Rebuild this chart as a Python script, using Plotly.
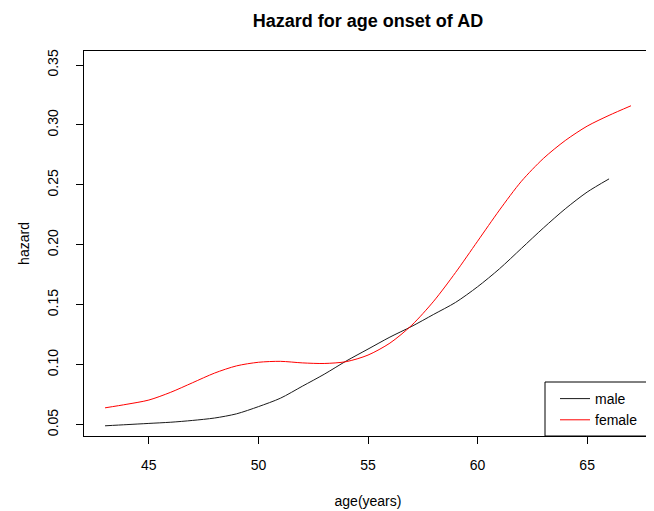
import plotly.graph_objects as go

age_male = [43, 44, 45, 46, 47, 48, 49, 50, 51, 52, 53, 54, 55, 56, 57, 58, 59, 60, 61, 62, 63, 64, 65, 66]
hazard_male = [0.049, 0.050, 0.051, 0.052, 0.0535, 0.0555, 0.059, 0.065, 0.072, 0.082, 0.092, 0.103,
               0.113, 0.123, 0.132, 0.142, 0.152, 0.165, 0.180, 0.197, 0.214, 0.230, 0.244, 0.255]

age_female = [43, 44, 45, 46, 47, 48, 49, 50, 51, 52, 53, 54, 55, 56, 57, 58, 59, 60, 61, 62, 63, 64, 65, 66, 67]
hazard_female = [0.064, 0.067, 0.0705, 0.077, 0.085, 0.093, 0.099, 0.102, 0.1028, 0.1015, 0.101, 0.1025,
                 0.108, 0.118, 0.133, 0.153, 0.177, 0.203, 0.229, 0.253, 0.272, 0.287, 0.299, 0.308, 0.316]

x_ticks = [45, 50, 55, 60, 65]
y_ticks = [0.05, 0.10, 0.15, 0.20, 0.25, 0.30, 0.35]
y_ticklabels = ["0.05", "0.10", "0.15", "0.20", "0.25", "0.30", "0.35"]

FONT = "Liberation Sans, Arial, sans-serif"
W, H = 646, 503  # page body has an 8px margin
L, R, T, B = 76, 2, 43, 75
PW, PH = W - L - R, H - T - B  # plot area in px

fig = go.Figure()
fig.add_trace(go.Scatter(x=age_male, y=hazard_male, mode="lines", name="male",
                         line=dict(color="#1a1a1a", width=1, shape="spline", smoothing=0.8)))
fig.add_trace(go.Scatter(x=age_female, y=hazard_female, mode="lines", name="female",
                         line=dict(color="#ff0000", width=1, shape="spline", smoothing=0.8)))

# legend frame (R-style bottomright box)
box_w, box_h = 107, 54
fig.add_shape(type="rect", xref="paper", yref="paper",
              x0=1 - box_w / PW, x1=1, y0=0, y1=box_h / PH,
              line=dict(color="black", width=1), fillcolor="white", layer="above")

fig.update_layout(
    width=W, height=H,
    margin=dict(l=L, r=R, t=T, b=B, autoexpand=False),
    paper_bgcolor="white", plot_bgcolor="white",
    font=dict(family=FONT, size=14, color="black"),
    title=dict(text="<b>Hazard for age onset of AD</b>", x=(L + W - R) / 2 / W, xanchor="center",
               y=1 - 13 / H, yanchor="middle", font=dict(size=18, family=FONT)),
    showlegend=True,
    legend=dict(x=1 - (box_w - 10) / PW, y=0, xanchor="left", yanchor="bottom", borderwidth=0,
                bgcolor="rgba(0,0,0,0)", font=dict(size=14, family=FONT), tracegroupgap=0,
                itemwidth=30),
)
fig.update_xaxes(range=[42.04, 67.96], tickvals=x_ticks, ticks="outside", ticklen=7, tickcolor="black",
                 showline=True, linecolor="black", linewidth=1, mirror=True, showgrid=False, zeroline=False,
                 tickfont=dict(size=14),
                 title=dict(text="age(years)", standoff=24, font=dict(size=14)), ticklabelstandoff=9,
                 automargin=False)
fig.update_yaxes(range=[0.0405, 0.3617], tickvals=y_ticks, ticktext=y_ticklabels, tickangle=-90,
                 ticks="outside", ticklen=7, tickcolor="black",
                 showline=True, linecolor="black", linewidth=1, mirror=True, showgrid=False, zeroline=False,
                 tickfont=dict(size=14),
                 title=dict(text="hazard", standoff=12, font=dict(size=14)), ticklabelstandoff=12,
                 automargin=False)

fig.write_html("out.html")
